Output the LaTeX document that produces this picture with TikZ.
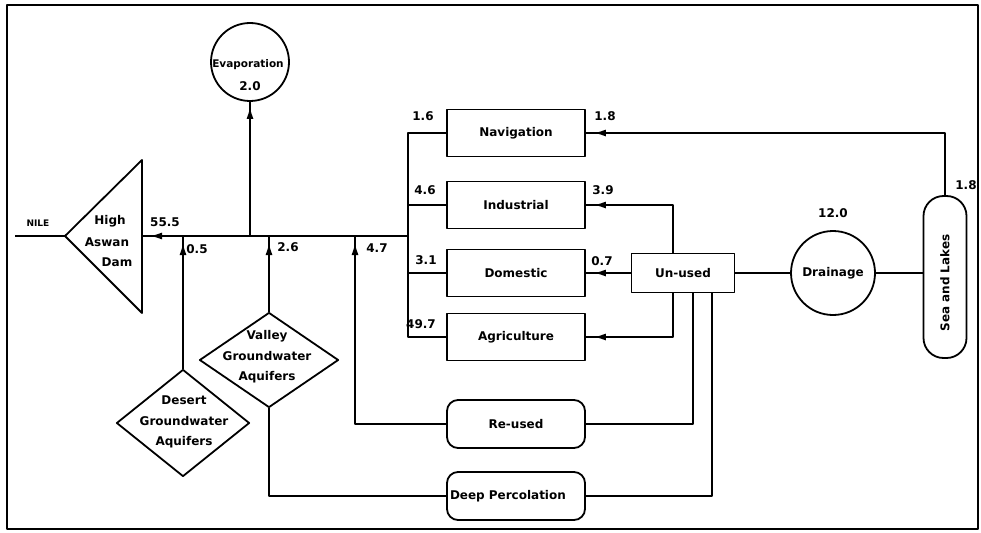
\documentclass[tikz,border=0pt]{standalone}
\usepackage{fontspec}
\setmainfont{DejaVu Sans}
\usetikzlibrary{arrows.meta,shapes.geometric,decorations.markings}

\tikzset{
  conn/.style={line width=1.6pt},
  outline/.style={draw, line width=1.8pt},
  box/.style={outline, minimum width=138pt, minimum height=47pt, inner sep=2pt},
  roundbox/.style={box, rounded corners=11pt},
  tipmark/.style={postaction={decorate, decoration={markings,
      mark=at position -#1 with {\arrow{Latex[length=12pt,width=7pt]}}}}},
  tipmark/.default=8pt,
  stacked/.style={align=center, font=\bfseries\fontsize{12}{20.5}\selectfont},
}

\begin{document}
\begin{tikzpicture}[x=1pt, y=-1pt, line join=round,
    font=\bfseries\fontsize{12}{14}\selectfont]
\useasboundingbox (0,0) rectangle (981,532);

% outer frame
\draw[line width=2.2pt] (7,5) rectangle (978,529);

% High Aswan Dam
\coordinate (damtip) at (65,236);
\coordinate (damtop) at (142,160);
\coordinate (dambot) at (142,313);
\coordinate (dameast) at (142,236);
\draw[line width=1.8pt] (damtip) -- (damtop) -- (dambot) -- cycle;
\node (damA) at (110,221) {High};
\node (damB) at (107,242) {Aswan};
\node (damC) at (117,262) {Dam};

% Nile inflow
\node[font=\bfseries\fontsize{9}{11}\selectfont] (nilelbl) at (38,223) {NILE};
\coordinate (nilestart) at (15,236);
\draw[conn] (nilestart) -- (damtip);

% main release line
\coordinate (hub) at (408,236);
\draw[conn,tipmark] (hub) -- (dameast);
\node (l555) at (165,222) {55.5};

% evaporation
\node[circle, outline, minimum size=78pt, inner sep=0pt] (evap) at (250,62) {};
\node[font=\bfseries\fontsize{10.5}{12}\selectfont] (evaptext) at (248,65) {Evaporation};
\node (evapval) at (250,86) {2.0};
\coordinate (evapjoin) at (250,236);
\draw[conn,tipmark=5pt] (evapjoin) -- (evap.south);

% groundwater aquifers
\node[diamond, outline, minimum width=133pt, minimum height=107pt, inner sep=0pt] (desert) at (183,423) {};
\node[stacked] (deserttext) at (184,422) {Desert\\Groundwater\\Aquifers};
\node[diamond, outline, minimum width=139pt, minimum height=95pt, inner sep=0pt] (valley) at (269,360) {};
\node[stacked] (valleytext) at (267,357) {Valley\\Groundwater\\Aquifers};

\draw[conn,tipmark=7pt] (desert.north) -- (desert.north |- dameast);
\node (l05) at (197,249) {0.5};
\draw[conn,tipmark=7pt] (valley.north) -- (valley.north |- dameast);
\node (l26) at (288,247) {2.6};

% water uses
\node[box] (nav)  at (516,133) {Navigation};
\node[box] (ind)  at (516,205) {Industrial};
\node[box] (dom)  at (516,273) {Domestic};
\node[box] (agri) at (516,337) {Agriculture};
\node[roundbox, minimum height=48pt] (reused) at (516,424) {Re-used};
\node[roundbox, minimum height=48pt, text width=132pt, align=left, inner xsep=3pt] (deep) at (516,496) {Deep Percolation};

\draw[conn] (nav.west) -| (hub) |- (agri.west);
\draw[conn] (ind.west) -- (ind.west -| hub);
\draw[conn] (dom.west) -- (dom.west -| hub);
\node (l16) at (423,116) {1.6};
\node (l46) at (425,190) {4.6};
\node (l31) at (426,260) {3.1};
\node (l497) at (421,324) {49.7};

% re-use back to the river
\coordinate (reusejoin) at (355,236);
\draw[conn,tipmark=7pt] (reused.west) -| (reusejoin);
\node (l47) at (377,248) {4.7};

% return flows
\node[box, minimum width=103pt, minimum height=39pt] (unused) at (683,273) {Un-used};
\node[circle, outline, minimum size=84pt, inner sep=0pt] (drain) at (833,273) {Drainage};
\node (l120) at (833,213) {12.0};
\node[outline, rounded corners=20pt, minimum width=43pt, minimum height=162pt, inner sep=0pt] (sea) at (945,277) {};
\node[rotate=90] (seatext) at (945,283) {Sea and Lakes};

\draw[conn,tipmark] (sea.north) |- (nav.east);
\node (l18a) at (605,116) {1.8};
\node (l18b) at (966,185) {1.8};
\draw[conn,tipmark] ([xshift=-10pt]unused.north) |- (ind.east);
\node (l39) at (603,190) {3.9};
\draw[conn,tipmark] (unused.west) -- (dom.east);
\node (l07) at (602,261) {0.7};
\draw[conn,tipmark] ([xshift=-10pt]unused.south) |- (agri.east);
\draw[conn] (reused.east) -| ([xshift=10pt]unused.south);
\draw[conn] (deep.east) -| ([xshift=29pt]unused.south);
\draw[conn] (deep.west) -| (valley.south);
\draw[conn] (unused.east) -- (drain.west);
\draw[conn] (drain.east) -- (drain.east -| sea.west);
\end{tikzpicture}
\end{document}
